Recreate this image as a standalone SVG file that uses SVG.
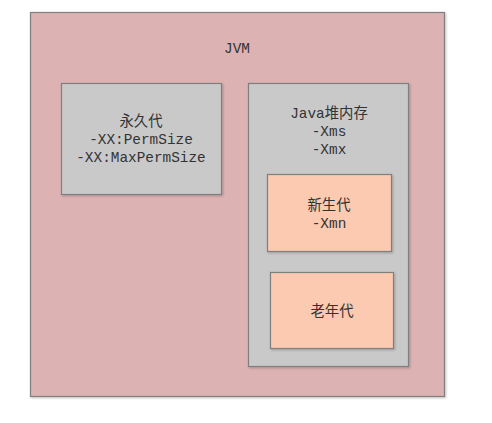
<svg xmlns="http://www.w3.org/2000/svg" width="492" height="423" viewBox="0 0 492 423">
<defs>
<filter id="sh" x="-5%" y="-5%" width="110%" height="110%">
<feDropShadow dx="1" dy="1" stdDeviation="0.8" flood-color="#000" flood-opacity="0.25"/>
</filter>
</defs>
<style>
.box{stroke:#7f7f7f;stroke-width:1.2;filter:url(#sh)}
.jvm{fill:#dcb2b3}
.gray{fill:#c9c9c9}
.peach{fill:#fbcab0}
text{font-family:"Liberation Mono","Noto Sans CJK SC",monospace;font-size:14.4px;fill:#333;text-anchor:middle}
</style>
<rect width="492" height="423" fill="#fff"/>
<g id="jvm">
<rect class="box jvm" x="30.5" y="12.5" width="414" height="384"/>
<text x="237" y="53">JVM</text>
</g>
<g id="perm">
<rect class="box gray" x="61.5" y="83.5" width="160" height="111"/>
<text x="141" y="126">永久代</text>
<text x="141" y="144">-XX:PermSize</text>
<text x="141" y="162">-XX:MaxPermSize</text>
</g>
<g id="heap">
<rect class="box gray" x="248.5" y="83.5" width="160" height="283"/>
<text x="329" y="118">Java堆内存</text>
<text x="329" y="136">-Xms</text>
<text x="329" y="154">-Xmx</text>
</g>
<g id="young">
<rect class="box peach" x="267.5" y="174.5" width="124" height="77"/>
<text x="329" y="210">新生代</text>
<text x="329" y="228">-Xmn</text>
</g>
<g id="old">
<rect class="box peach" x="270.5" y="272.5" width="123" height="76"/>
<text x="332" y="316">老年代</text>
</g>
<g id="connectors"></g>
</svg>
